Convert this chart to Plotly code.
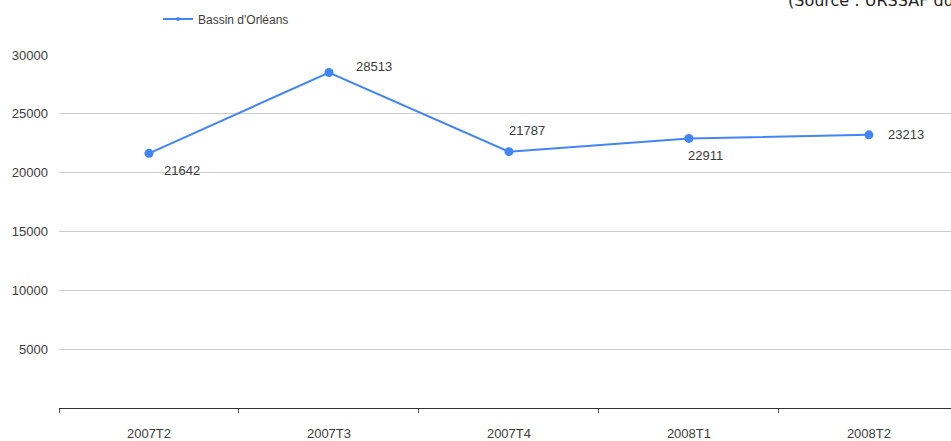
import plotly.graph_objects as go

periods = ["2007T2", "2007T3", "2007T4", "2008T1", "2008T2"]
effectifs = [21642, 28513, 21787, 22911, 23213]
series_name = "Bassin d'Orléans"
y_ticks = [5000, 10000, 15000, 20000, 25000, 30000]
source_text = "(Source : URSSAF du Loiret)"

# label offsets (px) for each data label
lab_dx = [13, 25, -2, -3, 17]
lab_dy = [-17, 6, 21, -17, 0]

blue = "#4285F4"
txt = "#3c3c3c"

fig = go.Figure()
fig.add_trace(go.Scatter(
    x=periods, y=effectifs, name=series_name,
    mode="lines+markers",
    line=dict(color=blue, width=2),
    marker=dict(color=blue, size=9),
    showlegend=False,
))
# legend entry only (small dot like the original)
fig.add_trace(go.Scatter(
    x=[periods[0]], y=[None], name=series_name,
    mode="lines+markers",
    line=dict(color=blue, width=2),
    marker=dict(color=blue, size=4),
))

for p, v, dx, dy in zip(periods, effectifs, lab_dx, lab_dy):
    fig.add_annotation(x=p, y=v, text=str(v), showarrow=False,
                       xanchor="left", yanchor="middle",
                       xshift=dx, yshift=dy,
                       font=dict(family="Liberation Sans, Arial", size=13, color=txt))

fig.add_annotation(xref="paper", yref="paper", x=(786 - 59) / 892, y=(408 - 1) / 353,
                   text=source_text, showarrow=False, xanchor="left", yanchor="middle",
                   font=dict(family="DejaVu Sans", size=16, color="#222222"))

fig.update_layout(
    width=951, height=441,
    margin=dict(l=59, r=0, t=55, b=33),
    paper_bgcolor="white", plot_bgcolor="white",
    font=dict(family="Liberation Sans, Arial", size=13, color=txt),
    legend=dict(orientation="h", xref="paper", x=(158 - 59) / 892,
                yref="container", y=1 - 19 / 441, xanchor="left", yanchor="middle",
                font=dict(size=12, color=txt), bgcolor="rgba(0,0,0,0)"),
    xaxis=dict(type="category", range=[-0.5, 4.456], tickson="boundaries",
               ticks="outside", ticklen=4, tickcolor="#555555",
               showline=True, linecolor="#333333", linewidth=1,
               showgrid=False, ticklabelstandoff=13),
    yaxis=dict(range=[0, 30000], tickvals=y_ticks, tickformat="d", showgrid=True,
               gridcolor="#cccccc", gridwidth=1, zeroline=False, showline=False,
               ticklabelstandoff=10),
)

fig.write_html("out.html", config={"displayModeBar": False},
               post_script="document.body.style.margin='0';")
